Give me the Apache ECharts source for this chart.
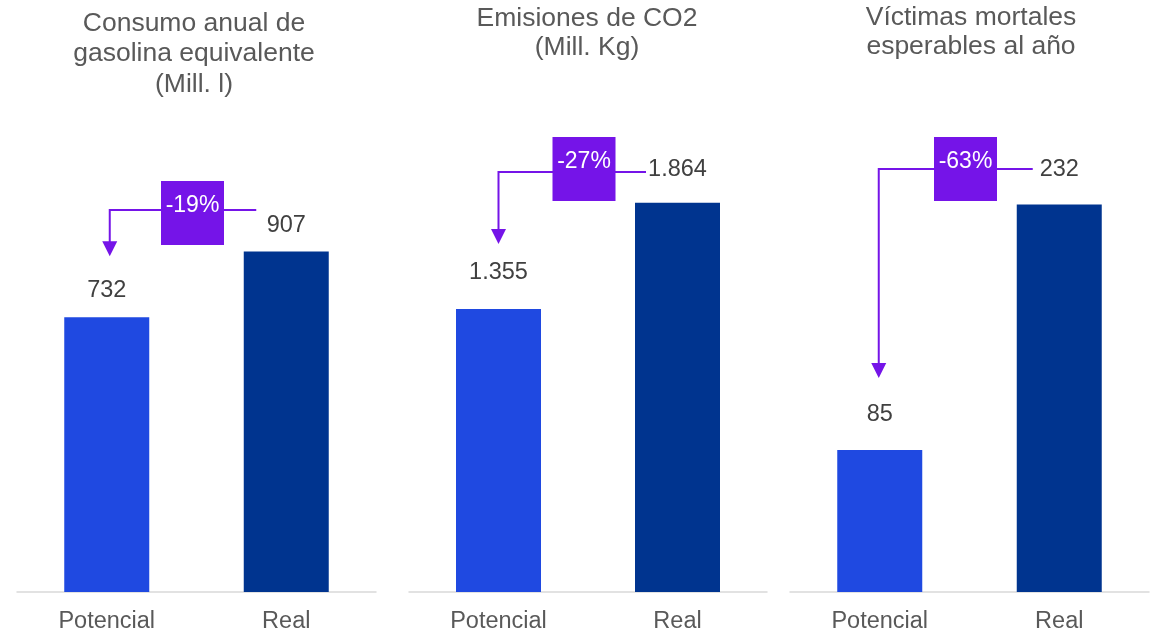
<!DOCTYPE html>
<html>
<head>
<meta charset="utf-8">
<script src="https://cdn.jsdelivr.net/npm/echarts@6/dist/echarts.min.js"></script>
<style>
html,body{margin:0;padding:0;background:#fff;}
#chart{width:1153px;height:634px;}
</style>
</head>
<body>
<div id="chart"></div>
<script>
// ---- data ----
const categories = ['Potencial', 'Real'];
const titles = [
  'Consumo anual de\ngasolina equivalente\n(Mill. l)',
  'Emisiones de CO2\n(Mill. Kg)',
  'Víctimas mortales\nesperables al año'
];
const consumo = [732, 907];
const emisiones = [1355, 1864];
const victimas = [85, 232];
const pctLabels = ['-19%', '-27%', '-63%'];

// ---- layout / style ----
const FONT = 'Liberation Sans';
const PURPLE = '#7514E8';
const C_POT = '#1F49E1';
const C_REAL = '#00348F';
const seriesData = [consumo, emisiones, victimas];
const panels = [
  {left: 17,  width: 359, max: 1311,   titleX: 194, titleTop: 8, titleLH: 30.5, lblDist: [14.5, 14], lineOff: 41.5, tipOff: 61, endOff: 30,   dx: 3,  boxDy: 3},
  {left: 409, width: 358, max: 2355.6, titleX: 587, titleTop: 4, titleLH: 29,   lblDist: [24.5, 21], lineOff: 30.7, tipOff: 65, endOff: 31.5, dx: 0,  boxDy: -3},
  {left: 790, width: 359, max: 294.5,  titleX: 971, titleTop: 3, titleLH: 29,   lblDist: [23.8, 23], lineOff: 35.4, tipOff: 72, endOff: 26.5, dx: -1, boxDy: 0}
];

function fmt(v) {
  return String(v).replace(/\B(?=(\d{3})+(?!\d))/g, '.');
}

const chart = echarts.init(document.getElementById('chart'));

const grid = [], xAxis = [], yAxis = [], series = [], graphic = [];
panels.forEach((p, i) => {
  grid.push({left: p.left, width: p.width, top: 100, bottom: 42});
  xAxis.push({
    type: 'category', gridIndex: i, data: categories,
    axisLine: {show: true, lineStyle: {color: '#D9D9D9', width: 1.5}},
    axisTick: {show: false},
    axisLabel: {color: '#595959', fontSize: 23.5, fontFamily: FONT, margin: 18}
  });
  yAxis.push({
    type: 'value', gridIndex: i, min: 0, max: p.max,
    show: false, splitLine: {show: false}
  });
  const vals = seriesData[i];
  series.push({
    type: 'bar', xAxisIndex: i, yAxisIndex: i, barWidth: 85,
    data: vals.map((v, k) => ({
      value: v,
      itemStyle: {color: k === 0 ? C_POT : C_REAL},
      label: {distance: p.lblDist[k]}
    })),
    label: {
      show: true, position: 'top', color: '#404040', fontSize: 23.5, fontFamily: FONT,
      formatter: (d) => fmt(d.value)
    },
    silent: true
  });
  series.push({
    type: 'custom', xAxisIndex: i, yAxisIndex: i, clip: false, silent: true,
    encode: {x: 0, y: 1},
    data: [[0, vals[0], vals[1]]],
    z: 5,
    renderItem: function (params, api) {
      const pot = api.coord([0, api.value(1)]);
      const real = api.coord([1, api.value(2)]);
      const ly = real[1] - p.lineOff;
      const ax = pot[0] + p.dx;
      const rx = real[0] - p.endOff;
      const tipY = pot[1] - p.tipOff;
      const mid = (pot[0] + real[0]) / 2 - 4;
      const by = ly + p.boxDy;
      return {
        type: 'group',
        children: [
          {type: 'polyline', shape: {points: [[rx, ly], [ax, ly], [ax, tipY - 13]]},
           style: {stroke: PURPLE, lineWidth: 2, fill: null}},
          {type: 'polygon', shape: {points: [[ax - 7.5, tipY - 15], [ax + 7.5, tipY - 15], [ax, tipY]]},
           style: {fill: PURPLE}},
          {type: 'rect', shape: {x: mid - 31.5, y: by - 32, width: 63, height: 64},
           style: {fill: PURPLE}},
          {type: 'text', x: mid, y: by - 7,
           style: {text: pctLabels[i], align: 'center', verticalAlign: 'middle',
                   fill: '#FFFFFF', fontSize: 23, fontFamily: FONT}}
        ]
      };
    }
  });
  graphic.push({
    type: 'text', x: p.titleX, y: p.titleTop,
    style: {text: titles[i], align: 'center', verticalAlign: 'top',
            fill: '#595959', fontSize: 26.5, lineHeight: p.titleLH, fontFamily: FONT}
  });
});

chart.setOption({
  animation: false,
  backgroundColor: '#FFFFFF',
  grid, xAxis, yAxis, series, graphic
});
</script>
</body>
</html>
